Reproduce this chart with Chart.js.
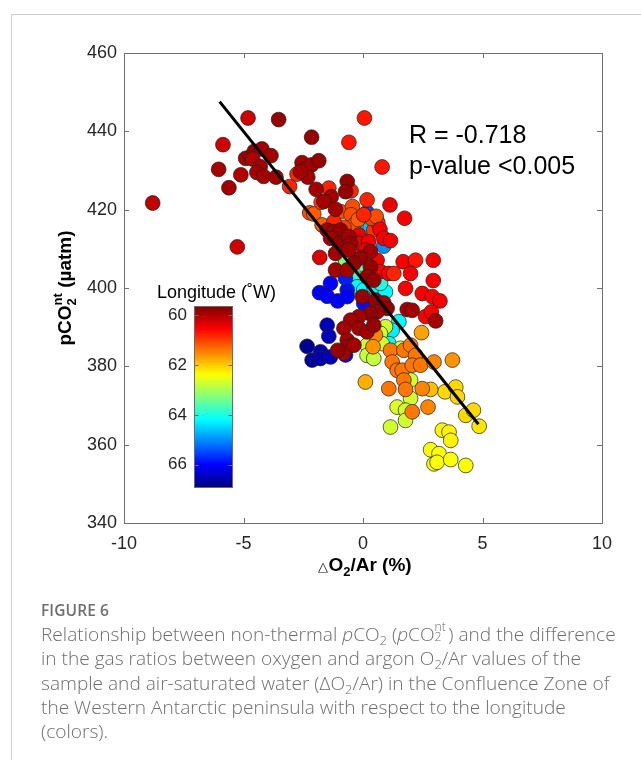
<!DOCTYPE html>
<html><head><meta charset="utf-8">
<script src="https://cdn.jsdelivr.net/npm/chart.js@4.4.1/dist/chart.umd.min.js"></script>
<style>
html,body{margin:0;padding:0;background:#fff;width:641px;height:760px;overflow:hidden}
#frame{position:absolute;left:11px;top:14px;width:660px;height:780px;border-left:1px solid #cfcfcf;border-top:1px solid #cfcfcf}
#wrap{position:absolute;left:0;top:0;width:641px;height:600px}
#cap{position:absolute;left:41px;top:599px;white-space:nowrap;font-family:"Open Sans",Lato,sans-serif;color:#6e6e6e}
#fig{font-size:15.5px;font-weight:600;line-height:22px;letter-spacing:0.1px}
#txt{font-size:19.1px;font-weight:300;line-height:24.3px;margin-top:1px}
#txt sub{font-size:0.68em;vertical-align:-0.3em;line-height:0}
.ss{display:inline-block;position:relative;width:0.72em;height:1em;vertical-align:baseline}
.ss .u{position:absolute;left:0;top:-0.05em;font-size:0.64em;line-height:1}
.ss .d{position:absolute;left:0;top:0.74em;font-size:0.64em;line-height:1}
</style></head>
<body>
<div id="frame"></div>
<div id="wrap"><canvas id="c" width="641" height="600"></canvas></div>
<div id="cap">
<div id="fig">FIGURE 6</div>
<div id="txt">Relationship between non-thermal <i>p</i>CO<sub>2</sub> (<i>p</i>CO<span class="ss"><span class="u">nt</span><span class="d">2</span></span>) and the difference<br>in the gas ratios between oxygen and argon O<sub>2</sub>/Ar values of the<br>sample and air-saturated water (ΔO<sub>2</sub>/Ar) in the Confluence Zone of<br>the Western Antarctic peninsula with respect to the longitude<br>(colors).</div>
</div>
<script>
// ---- data ----
const dO2Ar = [
 0.17,0.10,0.87,0.30,-0.73,-0.59,-0.38,-0.24,0.03,0.45,0.94,0.73,0.12,
 -1.36,-1.82,-1.50,-1.06,-0.66,-0.66,-0.73,0.03,
 1.50,1.22,1.08,
 -1.50,-1.43,-2.34,-1.78,-2.13,-1.78,-1.36,-0.73,
 0.94,0.73,0.17,0.17,0.45,0.80,1.57,1.99,1.99,1.43,1.15,1.78,1.78,
 3.32,3.60,3.67,2.83,3.18,2.97,3.10,3.67,4.30,
 3.43,3.88,3.95,4.30,4.62,4.86,2.83,0.10,
 0.52,0.42,1.15,1.22,1.43,1.64,1.71,1.99,2.20,2.06,2.41,2.97,3.74,1.71,1.08,1.78,2.48,2.06,2.72,2.45,
 -2.23,-2.06,-0.94,-0.44,-0.50,-1.71,-0.38,-1.75,0.45,0.62,-0.20,0.35,0.55,-0.80,
 -8.80,-4.81,0.06,-5.86,-0.59,0.80,-3.07,-5.26,-2.76,-1.43,-0.50,0.17,1.13,1.74,0.03,-1.22,0.71,0.87,1.15,
 -0.17,-0.17,0.24,0.10,0.59,0.73,1.08,1.29,-1.81,
 1.68,2.20,2.94,1.99,2.94,1.78,2.48,2.90,3.22,2.62,2.86,
 -3.53,-2.15,-6.04,-5.61,-5.11,-4.91,-4.69,-4.55,-4.23,-4.61,-4.30,-4.44,-4.16,-3.85,-3.64,
 -2.55,-2.41,-2.16,-1.85,-2.31,-2.62,-1.96,-0.66,-0.73,-1.33,-1.64,-1.15,
 -1.50,-1.22,-0.94,-1.36,-1.01,-0.59,-0.52,0.31,-0.10,-0.59,-1.15,-0.38,0.31,-1.15,-0.66,0.17,0.45,
 -0.03,0.52,0.87,1.01,0.59,0.29,-0.17,-0.52,-0.80,-0.17,0.17,0.45,-0.66,-0.63,-0.80,-0.38,-1.06,3.04,1.85,2.06
];
const pCO2nt = [
 419.3,416.7,410.7,415.3,407.1,404.2,402.9,400.3,399.5,400.3,399.0,401.2,405.5,
 401.2,398.8,397.9,396.7,399.5,397.8,402.5,396.1,
 391.4,389.2,385.8,
 390.5,387.7,385.1,383.7,381.6,382.0,382.4,382.9,
 390.1,388.4,385.4,382.8,382.0,385.8,384.6,376.5,371.8,369.6,364.5,368.8,366.2,
 363.7,363.2,361.1,358.7,357.7,355.1,355.5,356.2,354.7,
 373.5,374.7,372.2,367.5,368.8,364.7,374.1,376.0,
 388.0,385.0,384.1,381.1,379.0,379.0,384.1,385.4,382.8,380.3,380.3,381.1,381.6,376.5,374.3,374.1,374.3,368.4,369.6,388.6,
 419.2,418.9,419.5,420.8,418.7,416.1,416.1,421.9,414.8,416.7,417.5,417.8,418.3,415.5,
 421.7,443.4,443.4,436.6,437.2,430.9,425.9,410.5,429.1,425.5,424.8,422.5,421.2,417.8,418.7,416.9,415.0,412.7,412.1,
 413.5,411.4,411.8,409.7,407.1,404.2,403.7,403.7,407.8,
 406.7,407.1,407.1,403.7,401.9,399.9,398.6,397.8,396.7,392.7,393.9,
 443.0,438.5,430.3,425.6,428.9,433.1,433.6,434.9,435.5,432.9,431.0,429.5,428.5,433.8,428.3,
 432.0,430.3,431.4,432.5,428.3,429.7,425.2,427.2,424.6,423.3,422.1,420.1,
 414.8,414.4,414.8,412.7,411.4,413.1,411.4,409.3,407.7,409.7,408.8,406.3,405.4,404.6,404.6,402.9,402.0,
 397.8,396.9,396.2,394.8,393.9,393.5,392.7,391.8,389.7,389.7,388.8,390.5,386.7,385.0,383.4,385.4,384.1,391.6,394.5,394.3
];
const lonW = [
 65.5,64.3,65.0,64.6,63.3,63.3,63.8,64.2,64.2,64.3,64.2,64.0,63.5,
 66.0,66.0,66.0,66.0,65.9,66.0,65.8,65.9,
 64.2,64.3,64.2,
 66.5,66.5,66.8,66.6,66.7,66.6,66.5,66.1,
 62.7,62.7,62.8,62.8,62.8,62.7,62.7,62.7,62.7,62.6,62.7,62.7,62.7,
 62.3,62.3,62.3,62.4,62.4,62.4,62.4,62.4,62.4,
 62.1,62.1,62.1,62.1,62.1,62.2,61.9,61.8,
 61.5,61.6,61.4,61.4,61.4,61.4,61.4,61.4,61.4,61.4,61.4,61.5,61.6,61.4,61.4,61.4,61.5,61.4,61.5,61.7,
 61.1,61.2,61.1,61.1,61.1,61.2,61.1,61.0,60.9,60.9,61.2,61.0,61.1,61.0,
 60.1,60.2,60.7,60.2,60.7,60.7,60.8,60.2,60.8,60.8,60.8,60.8,60.4,60.5,60.8,60.8,60.5,60.5,60.5,
 60.4,60.4,60.5,60.4,60.5,60.5,60.5,60.8,60.3,
 60.5,60.7,60.5,60.5,60.5,60.5,60.5,60.5,60.5,60.5,60.5,
 59.8,59.8,59.9,59.9,60.0,59.9,59.9,59.8,59.9,60.0,59.9,59.9,59.9,59.9,59.9,
 59.9,59.9,59.9,59.8,59.9,59.9,59.9,59.8,59.8,59.9,59.9,59.9,
 59.9,59.9,59.8,59.9,59.8,59.9,59.8,59.9,59.8,59.9,59.9,59.8,59.8,59.9,59.9,59.8,59.8,
 59.8,59.8,59.9,59.8,59.8,59.8,59.9,59.9,59.9,59.9,59.9,59.8,59.9,59.9,59.9,59.9,59.8,59.9,59.9,59.9
];
const fitX = [-6.0, 4.83];
const fitY = [447.6, 365.2];
const xTicks = [-10, -5, 0, 5, 10];
const yTicks = [340, 360, 380, 400, 420, 440, 460];
const cbTicks = [60, 62, 64, 66];
const lonMin = 59.64, lonMax = 66.92;
const statLines = ['R = -0.718', 'p-value <0.005'];

// ---- helpers ----
function jet(t){
  const c = v => Math.max(0, Math.min(1, v));
  return 'rgb(' + Math.round(255*c(1.5-Math.abs(4*t-3))) + ',' + Math.round(255*c(1.5-Math.abs(4*t-2))) + ',' + Math.round(255*c(1.5-Math.abs(4*t-1))) + ')';
}
const lonColor = l => jet((lonMax - l) / (lonMax - lonMin));
const FONT = '"Liberation Sans", Arial, Helvetica, sans-serif';
const TXT = '#262626';

function drawRich(ctx, parts, align){
  const w = p => { ctx.font = (p.bold?'bold ':'') + p.size + 'px ' + FONT; return ctx.measureText(p.t).width; };
  let total = 0;
  parts.forEach(p => { total += p.stack ? Math.max(...p.stack.map(w)) : w(p); });
  let x = align === 'center' ? -total/2 : 0;
  ctx.textAlign = 'left'; ctx.textBaseline = 'alphabetic';
  parts.forEach(p => {
    if (p.stack){
      let mw = 0;
      p.stack.forEach(s => { ctx.font = (s.bold?'bold ':'') + s.size + 'px ' + FONT; ctx.fillText(s.t, x, s.dy||0); mw = Math.max(mw, ctx.measureText(s.t).width); });
      x += mw;
    } else {
      ctx.font = (p.bold?'bold ':'') + p.size + 'px ' + FONT;
      ctx.fillText(p.t, x, p.dy||0);
      x += ctx.measureText(p.t).width;
    }
  });
}

const decor = {
  id: 'decor',
  afterDraw(chart){
    const {ctx, chartArea: a, scales: {x, y}} = chart;
    ctx.save();
    ctx.strokeStyle = '#707070'; ctx.lineWidth = 1;
    ctx.strokeRect(Math.round(a.left)+0.5, Math.round(a.top)+0.5, Math.round(a.right-a.left), Math.round(a.bottom-a.top));
    ctx.beginPath();
    xTicks.forEach(v => { const px = Math.round(x.getPixelForValue(v))+0.5;
      ctx.moveTo(px, a.bottom); ctx.lineTo(px, a.bottom-5); ctx.moveTo(px, a.top); ctx.lineTo(px, a.top+5); });
    yTicks.forEach(v => { const py = Math.round(y.getPixelForValue(v))+0.5;
      ctx.moveTo(a.left, py); ctx.lineTo(a.left+5, py); ctx.moveTo(a.right, py); ctx.lineTo(a.right-5, py); });
    ctx.stroke();

    ctx.fillStyle = '#000'; ctx.font = '25px ' + FONT; ctx.textAlign = 'left'; ctx.textBaseline = 'alphabetic';
    ctx.fillText(statLines[0], 409, 143);
    ctx.fillText(statLines[1], 409, 174);

    const cb = {l: 194.5, t: 306.5, w: 38, h: 181};
    const g = ctx.createLinearGradient(0, cb.t, 0, cb.t + cb.h);
    for (let i = 0; i <= 64; i++){ const f = i/64; g.addColorStop(f, jet(1 - f)); }
    ctx.fillStyle = g; ctx.fillRect(cb.l, cb.t, cb.w, cb.h);
    ctx.strokeStyle = '#6a6a6a'; ctx.strokeRect(cb.l, cb.t, cb.w, cb.h);
    const lonPx = l => cb.t + (l - lonMin) / (lonMax - lonMin) * cb.h;
    ctx.beginPath();
    cbTicks.forEach(l => { const py = Math.round(lonPx(l))+0.5; ctx.moveTo(cb.l, py); ctx.lineTo(cb.l+4, py); ctx.moveTo(cb.l+cb.w, py); ctx.lineTo(cb.l+cb.w-4, py); });
    ctx.stroke();
    ctx.fillStyle = TXT; ctx.font = '17px ' + FONT; ctx.textAlign = 'right'; ctx.textBaseline = 'middle';
    cbTicks.forEach(l => ctx.fillText(String(l), 187, lonPx(l)));
    ctx.font = '18px ' + FONT; ctx.textAlign = 'left'; ctx.textBaseline = 'alphabetic'; ctx.fillStyle = '#000';
    ctx.fillText('Longitude (\u02DAW)', 157, 298);

    ctx.fillStyle = '#000';
    ctx.save(); ctx.translate(71, 288); ctx.rotate(-Math.PI/2);
    drawRich(ctx, [
      {t:'pCO', size:19, bold:true},
      {stack:[{t:'nt', size:13, bold:true, dy:-9}, {t:'2', size:13, bold:true, dy:5}]},
      {t:' (\u00B5atm)', size:19, bold:true}
    ], 'center');
    ctx.restore();

    ctx.save(); ctx.translate(365, 571);
    drawRich(ctx, [
      {t:'\u25B3', size:13, bold:false},
      {t:'O', size:19, bold:true},
      {t:'2', size:13, bold:true, dy:5},
      {t:'/Ar (%)', size:19, bold:true}
    ], 'center');
    ctx.restore();
    ctx.restore();
  }
};

const points = dO2Ar.map((v, i) => ({x: v, y: pCO2nt[i]}));

new Chart(document.getElementById('c'), {
  type: 'scatter',
  data: {
    datasets: [
      { label: 'fit', data: fitX.map((v, i) => ({x: v, y: fitY[i]})), showLine: true, borderColor: '#000', borderWidth: 3, pointRadius: 0, fill: false, order: 0 },
      { label: 'samples', data: points, pointRadius: 7.4, pointBorderWidth: 0.8, pointBorderColor: 'rgba(35,35,35,0.9)',
        pointBackgroundColor: lonW.map(lonColor), order: 1 }
    ]
  },
  options: {
    responsive: false, animation: false, devicePixelRatio: 1,
    layout: { padding: { left: 0, top: 53, right: 39, bottom: 0 } },
    plugins: { legend: { display: false }, tooltip: { enabled: false } },
    scales: {
      x: { type: 'linear', min: -10, max: 10,
        afterBuildTicks: s => { s.ticks = xTicks.map(v => ({value: v})); },
        grid: { display: false, drawTicks: false }, border: { display: false },
        ticks: { padding: 10, color: TXT, font: { family: FONT, size: 18 }, maxRotation: 0 },
        afterFit: s => { s.height = 77; } },
      y: { type: 'linear', min: 340, max: 460,
        afterBuildTicks: s => { s.ticks = yTicks.map(v => ({value: v})); },
        grid: { display: false, drawTicks: false }, border: { display: false },
        ticks: { padding: 7, color: TXT, font: { family: FONT, size: 18 } },
        afterFit: s => { s.width = 124; } }
    }
  },
  plugins: [decor]
});
</script>
</body></html>
